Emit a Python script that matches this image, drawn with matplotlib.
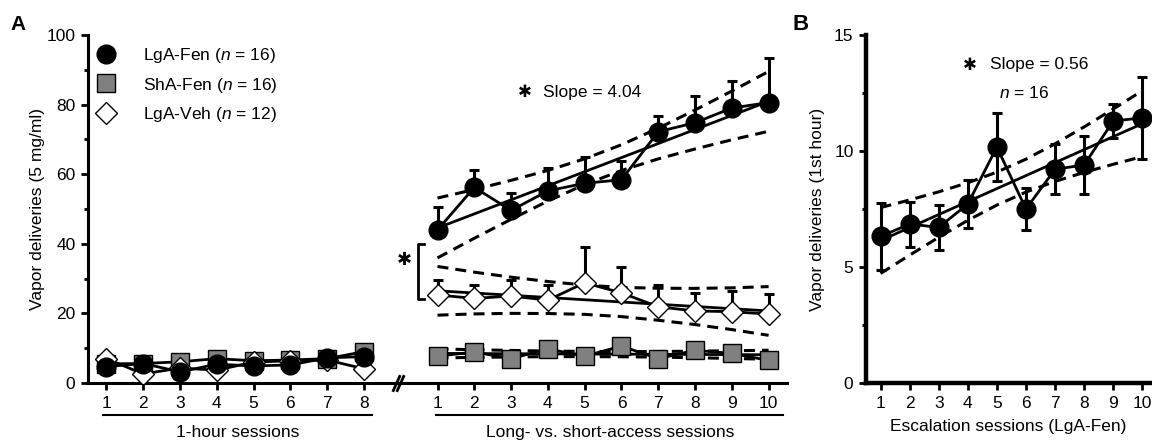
import numpy as np
import matplotlib
matplotlib.use("Agg")
import matplotlib.pyplot as plt
from matplotlib.lines import Line2D
import matplotlib.transforms as mtransforms

plt.rcParams['font.family'] = ['Liberation Sans', 'DejaVu Sans']
plt.rcParams['mathtext.fontset'] = 'custom'
plt.rcParams['mathtext.rm'] = 'Liberation Sans'
plt.rcParams['mathtext.it'] = 'Liberation Sans:italic'

# ---------------- data ----------------
sessions_1h = [1, 2, 3, 4, 5, 6, 7, 8]
sessions_long = [1, 2, 3, 4, 5, 6, 7, 8, 9, 10]
sessions_esc = [1, 2, 3, 4, 5, 6, 7, 8, 9, 10]

oneh_lga_fen = [4.7, 5.6, 3.2, 5.4, 4.9, 5.2, 7.2, 7.6]
oneh_sha_fen = [5.5, 5.6, 6.1, 7.0, 6.4, 6.6, 7.0, 9.0]
oneh_lga_veh = [7.0, 2.6, 4.3, 3.7, 6.0, 6.4, 6.6, 4.1]

long_lga_fen = [44.0, 56.2, 49.6, 55.2, 57.4, 58.4, 72.2, 74.8, 79.0, 80.6]
long_lga_fen_sem = [6.5, 5.0, 5.0, 6.5, 7.5, 5.5, 4.4, 7.6, 7.8, 12.8]
long_sha_fen = [7.7, 8.9, 7.0, 9.8, 7.7, 10.6, 7.0, 9.4, 8.5, 6.5]
long_lga_veh = [25.3, 24.3, 25.0, 23.8, 28.8, 25.9, 21.9, 20.7, 20.5, 19.8]
long_lga_veh_sem = [4.4, 3.9, 4.6, 4.4, 10.2, 7.4, 6.3, 5.2, 6.0, 5.9]

# half-widths of the dashed confidence bands, read per session
band_lga_fen = [8.6, 7.0, 5.6, 4.4, 3.7, 3.7, 4.4, 5.6, 7.0, 8.6]
band_lga_veh = [7.0, 6.0, 5.2, 4.6, 4.2, 4.2, 4.6, 5.2, 6.0, 7.0]
band_sha_fen = [1.3, 1.1, 0.95, 0.8, 0.75, 0.75, 0.8, 0.95, 1.1, 1.3]

esc_lga_fen = [6.32, 6.85, 6.71, 7.71, 10.17, 7.50, 9.21, 9.40, 11.29, 11.43]
esc_lga_fen_sem = [1.45, 0.97, 0.97, 1.02, 1.45, 0.90, 1.08, 1.25, 0.74, 1.77]
band_esc = [1.42, 1.19, 0.98, 0.81, 0.71, 0.71, 0.81, 0.98, 1.19, 1.42]

labels = ['LgA-Fen ($\\it{n}$ = 16)', 'ShA-Fen ($\\it{n}$ = 16)', 'LgA-Veh ($\\it{n}$ = 12)']
slope_a_text = 'Slope = 4.04'
slope_b_text = 'Slope = 0.56'
n_b_text = '$\\it{n}$ = 16'

# ---------------- styles ----------------
FS = 12.5
GRAY = '#808080'
LW = 2.0
circle = dict(marker='o', markersize=13.5, markerfacecolor='black', markeredgecolor='black', color='black')
square = dict(marker='s', markersize=12.5, markerfacecolor=GRAY, markeredgecolor='black', markeredgewidth=1.0, color='black')
diamond = dict(marker='D', markersize=11.5, markerfacecolor='white', markeredgecolor='black', markeredgewidth=1.0, color='black')

W, H = 1152, 445
fig = plt.figure(figsize=(W / 100, H / 100), dpi=100)
axA = fig.add_axes([88 / W, 62 / H, (787 - 88) / W, 348 / H])
axB = fig.add_axes([866 / W, 62 / H, (1151 - 866) / W, 348 / H])

LONG_OFFSET = 9
x1 = np.array(sessions_1h, dtype=float)
xl = np.array(sessions_long, dtype=float) + LONG_OFFSET


def style_axis(ax, lw):
    for s in ['top', 'right']:
        ax.spines[s].set_visible(False)
    for s in ['left', 'bottom']:
        ax.spines[s].set_linewidth(lw)
    ax.tick_params(axis='both', which='major', direction='out', length=5, width=2, labelsize=FS, pad=4)
    ax.tick_params(axis='y', which='minor', direction='out', length=3, width=2)
    ax.tick_params(axis='x', which='minor', length=0)


def dashed(ax, x, y, **kw):
    ax.plot(x, y, color='black', lw=2.2, linestyle=(0, (3.6, 2.3)), zorder=2, **kw)


def fit_and_band(ax, x, xs, y, hw):
    p = np.polyfit(xs, y, 1)
    fit = np.polyval(p, xs)
    ax.plot(x, fit, color='black', lw=LW, zorder=3)
    dashed(ax, x, fit + np.array(hw))
    dashed(ax, x, fit - np.array(hw))


# ---------------- panel A ----------------
style_axis(axA, 2.2)
axA.set_xlim(0.5, 19.5)
axA.set_ylim(0, 100)
axA.set_yticks([0, 20, 40, 60, 80, 100])
axA.set_yticks([10, 30, 50, 70, 90], minor=True)
axA.set_xticks(list(x1) + list(xl))
axA.set_xticklabels([str(s) for s in sessions_1h] + [str(s) for s in sessions_long])
axA.set_ylabel('Vapor deliveries (5 mg/ml)', fontsize=FS)
axA.yaxis.set_label_coords(-(88 - 45) / 699, 0.5)

# 1-hour sessions
axA.plot(x1, oneh_sha_fen, lw=LW, zorder=5, **square)
axA.plot(x1, oneh_lga_veh, lw=LW, zorder=6, **diamond)
axA.plot(x1, oneh_lga_fen, lw=LW, zorder=7, **circle)

# long-access sessions
xs = np.array(sessions_long, dtype=float)
fit_and_band(axA, xl, xs, long_lga_fen, band_lga_fen)
fit_and_band(axA, xl, xs, long_lga_veh, band_lga_veh)
fit_and_band(axA, xl, xs, long_sha_fen, band_sha_fen)

axA.errorbar(xl, long_lga_fen, yerr=[np.zeros(10), long_lga_fen_sem], fmt='none', ecolor='black',
             elinewidth=2.2, capsize=3.5, capthick=2.2, zorder=4)
axA.errorbar(xl, long_lga_veh, yerr=[np.zeros(10), long_lga_veh_sem], fmt='none', ecolor='black',
             elinewidth=2.2, capsize=3.5, capthick=2.2, zorder=4)
axA.plot(xl, long_sha_fen, lw=LW, zorder=5, **square)
axA.plot(xl, long_lga_veh, lw=LW, zorder=6, **diamond)
axA.plot(xl, long_lga_fen, lw=LW, zorder=7, **circle)

# legend
handles = [Line2D([], [], linestyle='none', **circle),
           Line2D([], [], linestyle='none', **square),
           Line2D([], [], linestyle='none', **diamond)]
axA.legend(handles, labels, loc='upper left', bbox_to_anchor=(-0.004, 1.004), frameon=False,
           fontsize=FS, handlelength=1.0, handletextpad=1.65, labelspacing=0.62, borderpad=0.2)

# slope annotation
axA.text(12.38, 83.6, '\u2731', fontsize=12, family='DejaVu Sans', ha='center', va='center')
axA.text(12.86, 83.6, slope_a_text, fontsize=FS, ha='left', va='center')

# significance bracket
br_x, br_tick = 9.47, 0.17
br_lo, br_hi = 24.0, 40.0
axA.plot([br_x + br_tick, br_x, br_x, br_x + br_tick], [br_lo, br_lo, br_hi, br_hi],
         color='black', lw=2, clip_on=False)
axA.text(9.11, 35.3, '\u2731', fontsize=13, family='DejaVu Sans', ha='center', va='center')

# axis break marks
axA.plot([8.86, 8.99], [0, 0], linestyle='none', marker=[(-0.45, -1), (0.45, 1)],
         markersize=12, markeredgewidth=2, color='black', clip_on=False, zorder=10)

# group underlines + labels
trans = mtransforms.blended_transform_factory(axA.transData, axA.transAxes)
axA.plot([0.9, 8.22], [-0.092, -0.092], transform=trans, color='black', lw=1.5, clip_on=False)
axA.plot([9.95, 19.4], [-0.092, -0.092], transform=trans, color='black', lw=1.5, clip_on=False)
axA.text(4.56, -0.141, '1-hour sessions', transform=trans, fontsize=FS, ha='center', va='center')
axA.text(14.7, -0.141, 'Long- vs. short-access sessions', transform=trans, fontsize=FS, ha='center', va='center')

# ---------------- panel B ----------------
style_axis(axB, 3.2)
axB.set_xlim(0.5, 10.3)
axB.set_ylim(0, 15)
axB.set_yticks([0, 5, 10, 15])
axB.set_yticks([2.5, 7.5, 12.5], minor=True)
axB.set_xticks(sessions_esc)
axB.set_ylabel('Vapor deliveries (1st hour)', fontsize=FS)
axB.yaxis.set_label_coords(-(866 - 825) / 285, 0.5)
axB.set_xlabel('Escalation sessions (LgA-Fen)', fontsize=FS, labelpad=6)

xe = np.array(sessions_esc, dtype=float)
fit_and_band(axB, xe, xe, esc_lga_fen, band_esc)
axB.errorbar(xe, esc_lga_fen, yerr=esc_lga_fen_sem, fmt='none', ecolor='black',
             elinewidth=2.2, capsize=3.5, capthick=2.2, zorder=4)
axB.plot(xe, esc_lga_fen, lw=LW, zorder=7, **circle)
axB.text(4.06, 13.72, '\u2731', fontsize=12, family='DejaVu Sans', ha='center', va='center')
axB.text(4.75, 13.72, slope_b_text, fontsize=FS, ha='left', va='center')
axB.text(5.95, 12.5, n_b_text, fontsize=FS, ha='center', va='center')

# panel letters
fig.text(10 / W, 1 - 30 / H, 'A', fontsize=15, fontweight='bold', ha='left', va='baseline')
fig.text(792 / W, 1 - 30 / H, 'B', fontsize=16, fontweight='bold', ha='left', va='baseline')

fig.savefig('out.png', dpi=100)
